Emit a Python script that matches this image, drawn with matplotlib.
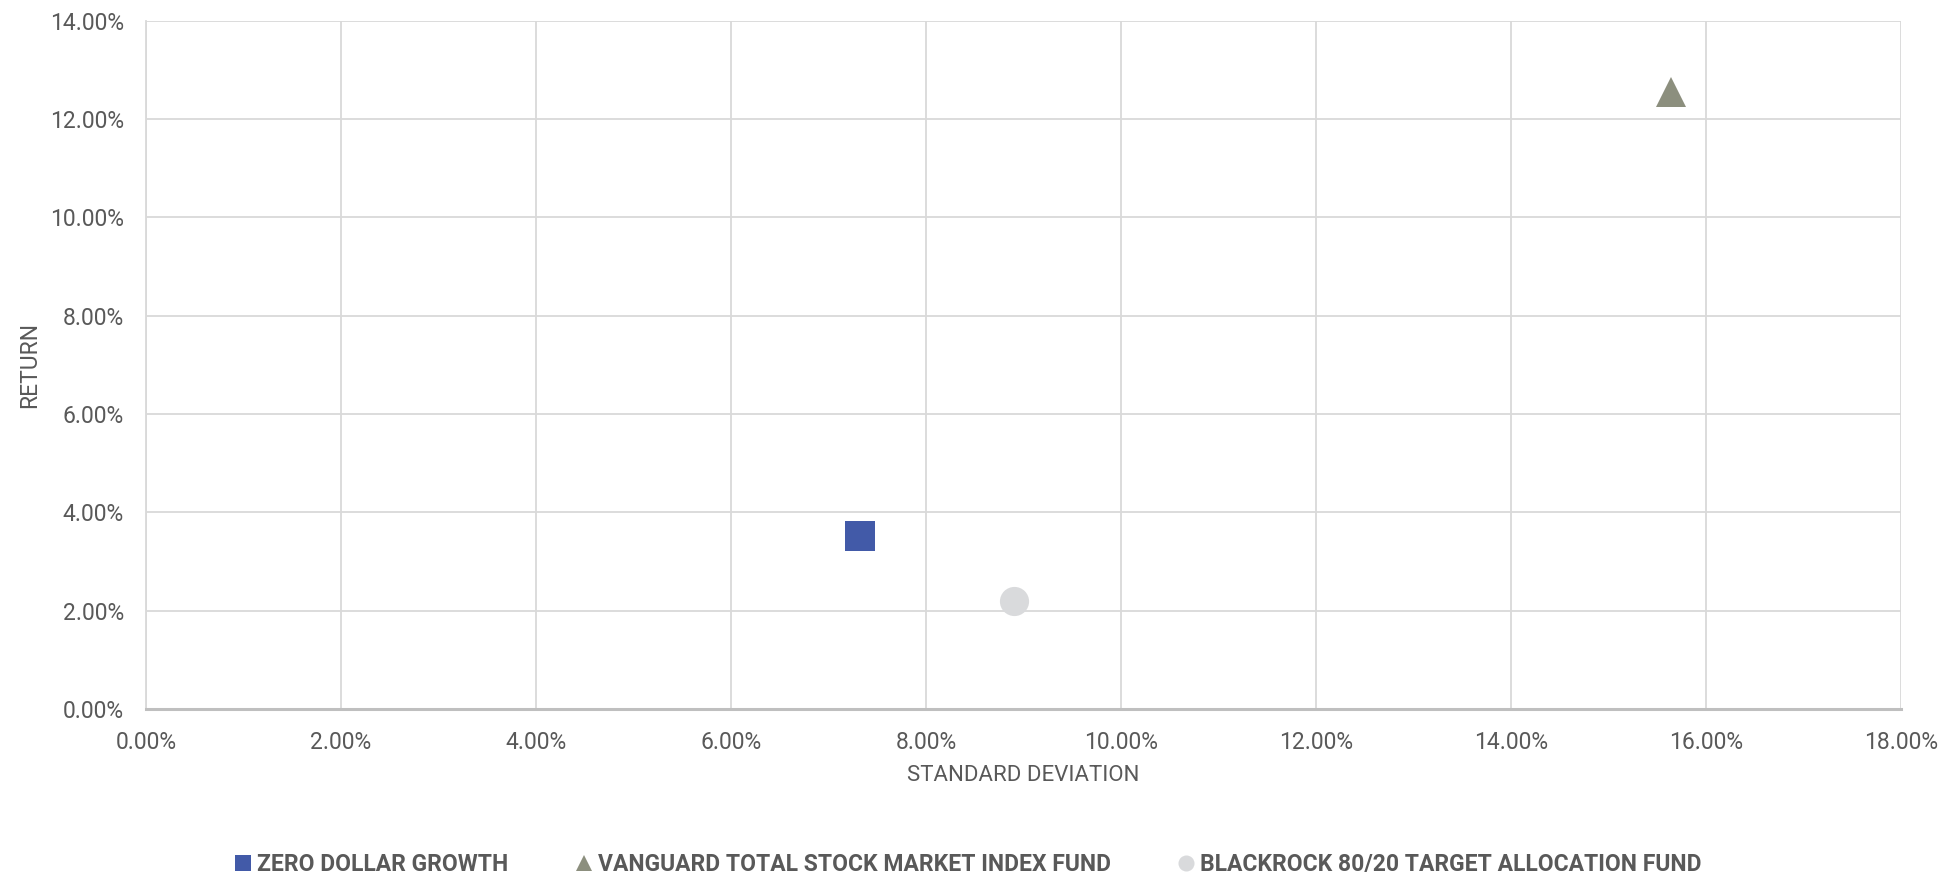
import matplotlib.pyplot as plt
from matplotlib.ticker import FuncFormatter, MultipleLocator

# risk / return of three funds (values in %)
fondi = ["ZERO DOLLAR GROWTH", "VANGUARD TOTAL STOCK MARKET INDEX FUND",
         "BLACKROCK 80/20 TARGET ALLOCATION FUND"]
std_dev = [7.32, 15.64, 8.90]
donos = [3.51, 12.55, 2.20]
markerji = ["s", "^", "o"]
barve = ["#425AA8", "#8C8F7E", "#D9DADC"]

plt.rcParams['font.family'] = ['Roboto', 'DejaVu Sans']
siva = "#595959"

fig = plt.figure(figsize=[19.38, 8.72], dpi=100)
ax = fig.add_axes([146/1938, 1 - 709/872, (1901-146)/1938, (709-20.7)/872])

for ime, x, y, m, c in zip(fondi, std_dev, donos, markerji, barve):
    ax.plot([x], [y], linestyle="none", marker=m, color=c, markersize=21,
            markeredgewidth=0, label=ime, zorder=3)

ax.set_xlim(0, 18)
ax.set_ylim(0, 14)
ax.xaxis.set_major_locator(MultipleLocator(2))
ax.yaxis.set_major_locator(MultipleLocator(2))
fmt = FuncFormatter(lambda v, p: f"{v:.2f}%")
ax.xaxis.set_major_formatter(fmt)
ax.yaxis.set_major_formatter(fmt)
ax.grid(True, color="#D9D9D9", linewidth=1.3, zorder=0)
ax.set_axisbelow(True)
ax.tick_params(length=0, labelsize=16.5, labelcolor=siva)
ax.tick_params(axis="x", pad=16)
ax.tick_params(axis="y", pad=16)

for s in ["top", "right"]:
    ax.spines[s].set_visible(False)
ax.spines["left"].set_color("#D9D9D9")
ax.spines["left"].set_linewidth(1.3)
ax.spines["bottom"].set_color("#BFBFBF")
ax.spines["bottom"].set_linewidth(2.2)

ax.set_xlabel("STANDARD DEVIATION", fontsize=16, color=siva, labelpad=8)
ax.set_ylabel("RETURN", fontsize=16.5, color=siva, labelpad=6)

leg = fig.legend(loc="lower center", bbox_to_anchor=(0.5, -0.028), ncol=3,
                 frameon=False, markerscale=0.55, handlelength=0.6,
                 handletextpad=0.3, columnspacing=3.0,
                 prop={"size": 16.5, "weight": "bold"})
for t in leg.get_texts():
    t.set_color(siva)

fig.savefig("out.png", dpi=100)
